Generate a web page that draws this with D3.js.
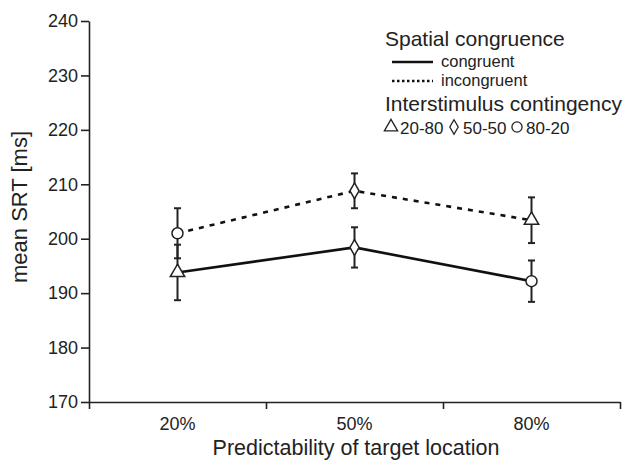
<!DOCTYPE html>
<html>
<head>
<meta charset="utf-8">
<script src="https://cdn.jsdelivr.net/npm/d3@7"></script>
<style>
  body { margin: 0; background: #fff; }
  svg { font-family: "Liberation Sans", Arial, sans-serif; }
  .axis path, .axis line { stroke: #222; stroke-width: 1.6; }
  .axis text { fill: #222; font-size: 18px; }
</style>
</head>
<body>
<svg width="627" height="461"></svg>
<script>
// predictability conditions on the x axis
var categories = ['20%', '50%', '80%'];
var yTicks = [170, 180, 190, 200, 210, 220, 230, 240];

// mean SRT and error bars
var congruent = [193.8, 198.4, 192.2];
var congruentErr = [5.1, 3.7, 3.8];
var incongruent = [201.0, 208.8, 203.4];
var incongruentErr = [4.6, 3.2, 4.2];

// interstimulus contingency shown by the marker
var congruentShape = ['20-80', '50-50', '80-20'];
var incongruentShape = ['80-20', '50-50', '20-80'];
var contingencies = ['20-80', '50-50', '80-20'];

var svg = d3.select('svg');

var x = d3.scaleBand().domain(categories).range([89, 620]);
var xEdge = d3.scaleLinear().domain([0, categories.length]).range([89, 620]);
var y = d3.scaleLinear().domain([170, 240]).range([402, 21]);

var shape = d3.scaleOrdinal()
  .domain(contingencies)
  .range([d3.symbolTriangle, d3.symbolDiamond, d3.symbolCircle]);
var shapeSize = d3.scaleOrdinal().domain(contingencies).range([90, 72, 95]);

// axes
svg.append('g')
  .attr('class', 'axis')
  .attr('transform', 'translate(89,0)')
  .call(d3.axisLeft(y).tickValues(yTicks).tickSize(8).tickSizeOuter(0).tickPadding(3));

svg.append('g')
  .attr('class', 'axis')
  .attr('transform', 'translate(0,402)')
  .call(d3.axisBottom(xEdge).ticks(categories.length).tickFormat('').tickSize(7).tickSizeOuter(0));

var xl = svg.append('g')
  .attr('class', 'axis')
  .attr('transform', 'translate(0,402)')
  .call(d3.axisBottom(x).tickSize(0).tickPadding(15));
xl.select('.domain').remove();

svg.append('text')
  .attr('x', 356).attr('y', 455)
  .attr('text-anchor', 'middle')
  .attr('font-size', 21.5).attr('fill', '#222')
  .text('Predictability of target location');

svg.append('text')
  .attr('transform', 'translate(27,207) rotate(-90)')
  .attr('text-anchor', 'middle')
  .attr('font-size', 22).attr('fill', '#222')
  .text('mean SRT [ms]');

// series
var series = [
  { name: 'congruent', values: congruent, err: congruentErr, shapes: congruentShape, dash: null },
  { name: 'incongruent', values: incongruent, err: incongruentErr, shapes: incongruentShape, dash: '5,6' }
];

var cx = function(i) { return x(categories[i]) + x.bandwidth() / 2; };

series.forEach(function(s) {
  var pts = s.values.map(function(v, i) { return { i: i, v: v, e: s.err[i], shape: s.shapes[i] }; });
  var g = svg.append('g');

  // error bars
  var eb = g.selectAll('.eb').data(pts).enter().append('g').attr('stroke', '#222').attr('stroke-width', 2);
  eb.append('line')
    .attr('x1', function(d) { return cx(d.i); }).attr('x2', function(d) { return cx(d.i); })
    .attr('y1', function(d) { return y(d.v - d.e); }).attr('y2', function(d) { return y(d.v + d.e); });
  eb.append('line')
    .attr('x1', function(d) { return cx(d.i) - 3.5; }).attr('x2', function(d) { return cx(d.i) + 3.5; })
    .attr('y1', function(d) { return y(d.v + d.e); }).attr('y2', function(d) { return y(d.v + d.e); });
  eb.append('line')
    .attr('x1', function(d) { return cx(d.i) - 3.5; }).attr('x2', function(d) { return cx(d.i) + 3.5; })
    .attr('y1', function(d) { return y(d.v - d.e); }).attr('y2', function(d) { return y(d.v - d.e); });

  var line = d3.line().x(function(d) { return cx(d.i); }).y(function(d) { return y(d.v); });
  g.append('path')
    .datum(pts)
    .attr('d', line)
    .attr('fill', 'none')
    .attr('stroke', '#111')
    .attr('stroke-width', 2.6)
    .attr('stroke-dasharray', s.dash);
  s.pts = pts;
});

series.forEach(function(s) {
  svg.append('g').selectAll('path').data(s.pts).enter().append('path')
    .attr('transform', function(d) { return 'translate(' + cx(d.i) + ',' + y(d.v) + ')'; })
    .attr('d', function(d) { return d3.symbol().type(shape(d.shape)).size(shapeSize(d.shape))(); })
    .attr('fill', '#fff')
    .attr('stroke', '#222')
    .attr('stroke-width', 1.5);
});

// legend
var leg = svg.append('g').attr('fill', '#222');
leg.append('text').attr('x', 385).attr('y', 46).attr('font-size', 21).text('Spatial congruence');
series.forEach(function(s, i) {
  var ly = 62 + i * 19;
  leg.append('line')
    .attr('x1', 392).attr('x2', 433).attr('y1', ly).attr('y2', ly)
    .attr('stroke', '#111').attr('stroke-width', 2.6)
    .attr('stroke-dasharray', s.dash ? '2.5,2.5' : null);
  leg.append('text').attr('x', 441).attr('y', ly + 5).attr('font-size', 16.5).text(s.name);
});
leg.append('text').attr('x', 385).attr('y', 111).attr('font-size', 21).text('Interstimulus contingency');
var cxs = [391, 454, 517];
contingencies.forEach(function(c, i) {
  leg.append('path')
    .attr('transform', 'translate(' + cxs[i] + ',127)')
    .attr('d', d3.symbol().type(shape(c)).size(shapeSize(c) * 0.85)())
    .attr('fill', '#fff').attr('stroke', '#222').attr('stroke-width', 1.3);
  leg.append('text').attr('x', cxs[i] + 9).attr('y', 133.5).attr('font-size', 17).text(c);
});
</script>
</body>
</html>
